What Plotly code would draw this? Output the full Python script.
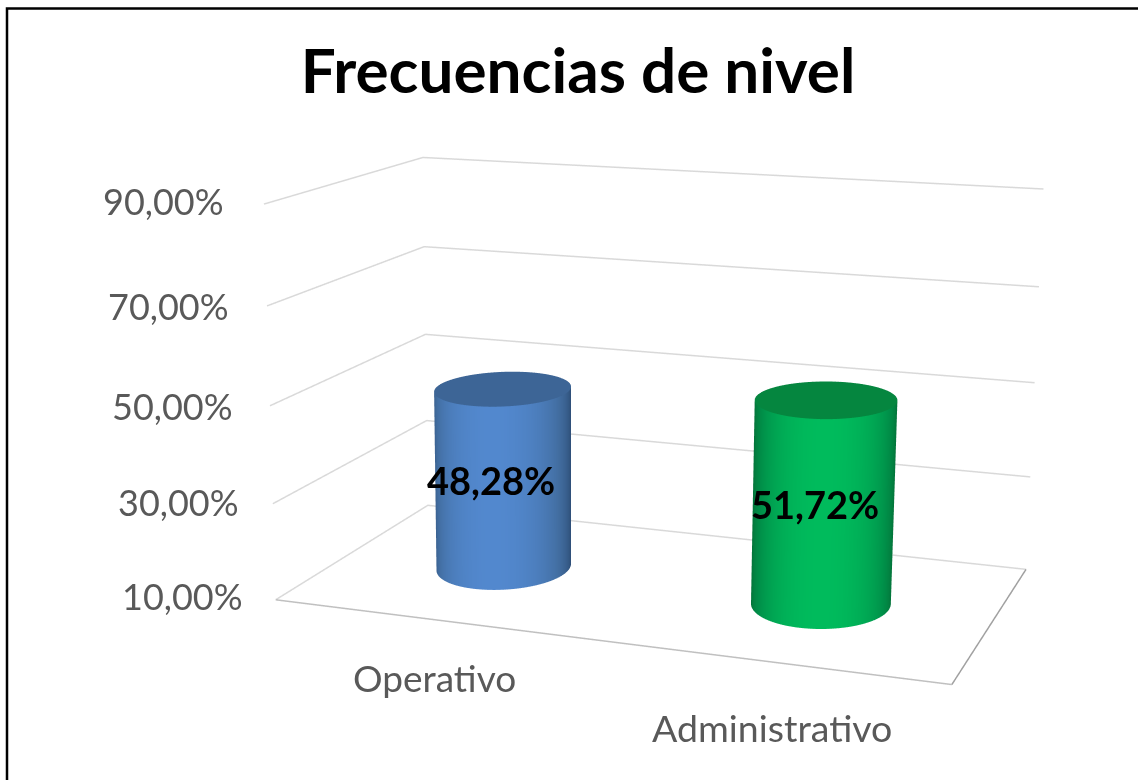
import numpy as np
import plotly.graph_objects as go

categories = ["Operativo", "Administrativo"]
values = [48.28, 51.72]
value_labels = ["48,28%", "51,72%"]
z_ticks = [10, 30, 50, 70, 90]
z_tick_labels = ["10,00%", "30,00%", "50,00%", "70,00%", "90,00%"]
side_scales = [["#2f5079", "#436fa3", "#5288ce"],
               ["#056a35", "#009049", "#00bb5c"]]
cap_colors = ["#3d6596", "#05863f"]

# The page is laid out larger than the window and shifted, so that the fixed
# field of view of the 3D camera gives the weak perspective of the reference.
PW, PH, OFF_X, OFF_Y = 2845, 1950, 853, 585
def px(x): return (x + OFF_X) / PW
def py(y): return 1 - (y + OFF_Y) / PH

W, D = 2.0, 1.0
cyl_x = [0.5, 1.5]
RX, RY = 0.2, 0.22
fig = go.Figure()
theta = np.linspace(0, 2*np.pi, 181)
flat = dict(ambient=1, diffuse=0, specular=0, fresnel=0)
for i, v in enumerate(values):
    cx, cy = cyl_x[i], D/2
    X = np.outer(cx + RX*np.cos(theta), [1, 1])
    Y = np.outer(cy + RY*np.sin(theta), [1, 1])
    Z = np.outer(np.ones_like(theta), [z_ticks[0], v])
    st = side_scales[i]
    cs = [[0, st[0]], [0.5, st[0]], [0.75, st[1]], [1, st[2]]]
    S = np.outer((np.cos(theta + 1.27) + 1)/2, [1, 1])
    fig.add_surface(x=X, y=Y, z=Z, surfacecolor=S, colorscale=cs, cmin=0, cmax=1, showscale=False,
                    lighting=flat, hoverinfo="skip")
    rr = np.linspace(0, 1, 6)
    fig.add_surface(x=cx + RX*np.outer(rr, np.cos(theta)), y=cy + RY*np.outer(rr, np.sin(theta)),
                    z=np.full((6, 181), v), surfacecolor=np.zeros((6, 181)),
                    colorscale=[[0, cap_colors[i]], [1, cap_colors[i]]], showscale=False,
                    lighting=flat, hoverinfo="skip")

for t in z_ticks:
    fig.add_scatter3d(x=[0, 0, W], y=[0, D, D], z=[t, t, t], mode="lines",
                      line=dict(color="#d9d9d9", width=3), hoverinfo="skip", showlegend=False)
fig.add_scatter3d(x=[0, W], y=[0, 0], z=[10, 10], mode="lines",
                  line=dict(color="#c0c0c0", width=3), hoverinfo="skip", showlegend=False)
fig.add_scatter3d(x=[W, W], y=[0, D], z=[10, 10], mode="lines",
                  line=dict(color="#a0a0a0", width=3), hoverinfo="skip", showlegend=False)

ann = []
tick_xshift = [-31, -32, -35, -36, -38]
tick_yshift = [4, 2, 0, 0, 3]
for t, l, xs, ys in zip(z_ticks, z_tick_labels, tick_xshift, tick_yshift):
    ann.append(dict(x=0, y=0, z=t, text=l, showarrow=False, xanchor="right", xshift=xs, yshift=ys,
                    font=dict(size=36, color="#595959", family="Lato")))
cat_yshift = [-58, -66]
cat_size = [37, 37.5]
for i, c in enumerate(categories):
    ann.append(dict(x=i+0.5, y=0, z=10, text=c, showarrow=False, xshift=3, yshift=cat_yshift[i],
                    font=dict(size=cat_size[i], color="#595959", family="Lato")))
label_xshift = [-12, -8]
for i, l in enumerate(value_labels):
    ann.append(dict(x=cyl_x[i], y=D/2, z=(10 + values[i])/2, text="<b>"+l+"</b>", showarrow=False,
                    xshift=label_xshift[i], yshift=-2, font=dict(size=38, color="black", family="Lato")))

ax = dict(visible=False, showgrid=False, zeroline=False, showspikes=False)
fig.update_layout(
    width=PW, height=PH, margin=dict(l=0, r=0, t=0, b=0), paper_bgcolor="white",
    autosize=False, showlegend=False,
    title=dict(text="<b>Frecuencias de nivel</b>", x=px(578), xanchor="center", y=py(71), yanchor="middle",
               font=dict(size=62, color="black", family="Lato")),
    scene=dict(domain=dict(x=[0, 1], y=[0, 1]), xaxis=ax, yaxis=ax, zaxis=ax,
               xaxis_range=[-0.02, W + 0.02], yaxis_range=[-0.01, D + 0.01], zaxis_range=[8, 92],
               aspectmode="manual", aspectratio=dict(x=1.711*1.02, y=0.926*1.02, z=1.05),
               camera=dict(eye=dict(x=1.842, y=-5.458, z=1.346), center=dict(x=-0.215, y=-0.076, z=0.009),
                           up=dict(x=0, y=0, z=1)),
               annotations=ann, dragmode=False),
    shapes=[dict(type="rect", xref="paper", yref="paper", x0=px(7), x1=px(1300), y0=py(900), y1=py(8.5),
                 line=dict(color="black", width=2.5))],
)
post = ("var g=document.getElementById('{plot_id}');"
        "document.documentElement.style.overflow='hidden';document.body.style.overflow='hidden';"
        "document.body.style.margin='0';g.style.position='absolute';"
        f"g.style.left='-{OFF_X}px';g.style.top='-{OFF_Y}px';")
fig.write_html("out.html", config=dict(displayModeBar=False), post_script=post)
